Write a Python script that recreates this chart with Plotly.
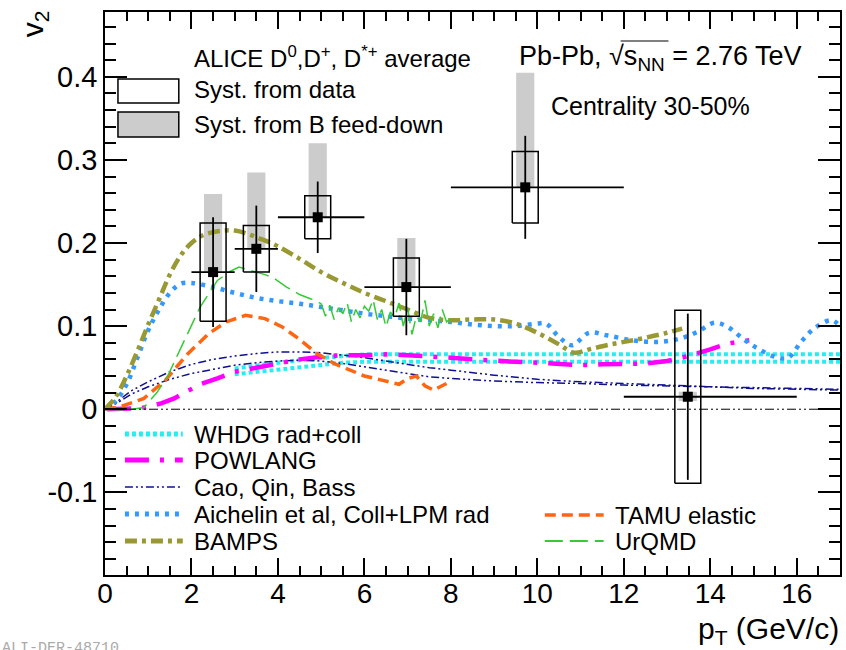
import plotly.graph_objects as go

# ---------------- data ----------------
pt = [2.5, 3.5, 4.92, 6.97, 9.72, 13.48]
bin_lo = [2, 3, 4, 6, 8, 12]
bin_hi = [3, 4, 6, 8, 12, 16]
v2 = [0.165, 0.193, 0.231, 0.147, 0.267, 0.015]
stat = [0.066, 0.052, 0.043, 0.058, 0.062, 0.100]
syst_data = [0.059, 0.028, 0.026, 0.035, 0.043, 0.104]
syst_b_up = [0.094, 0.092, 0.089, 0.059, 0.138, 0.006]
syst_b_dn = [0.0, 0.0, 0.0, 0.0, 0.0, 0.005]

whdg_x = [3.0, 3.5, 4.0, 4.5, 5.0, 5.5, 6.0, 7.0, 8.0, 9.0, 10.0, 11.0, 12.0, 13.0, 14.0, 15.0, 16.0, 17.0]
whdg_hi = [0.049, 0.053, 0.056, 0.059, 0.062, 0.064, 0.066, 0.066, 0.066, 0.066, 0.066, 0.066, 0.066, 0.066, 0.066, 0.066, 0.066, 0.066]
whdg_lo = [0.042, 0.045, 0.048, 0.051, 0.054, 0.056, 0.057, 0.057, 0.057, 0.057, 0.057, 0.057, 0.057, 0.057, 0.057, 0.057, 0.057, 0.057]

powlang_x = [0.05, 0.4, 0.8, 1.0, 1.3, 1.6, 2.0, 2.2, 2.6, 3.0, 3.5, 4.0, 4.5, 5.0, 5.5, 6.0, 6.5, 7.0, 7.5, 8.0,
             8.5, 9.0, 9.5, 10.0, 10.5, 11.0, 11.5, 12.0, 12.5, 13.0, 13.5, 14.0, 14.4, 14.9]
powlang_y = [0.0, 0.0, 0.001, 0.003, 0.007, 0.013, 0.024, 0.030, 0.037, 0.045, 0.050, 0.055, 0.060, 0.063, 0.065,
             0.065, 0.066, 0.065, 0.064, 0.062, 0.060, 0.058, 0.057, 0.056, 0.054, 0.053, 0.054, 0.055, 0.055,
             0.058, 0.064, 0.072, 0.079, 0.083]

cao_x = [0, 0.3, 0.6, 1.0, 1.5, 2.0, 2.5, 3.0, 3.5, 4.0, 4.5, 5.0, 5.5, 6.0, 6.5, 7.0, 7.5, 8.0, 9.0, 10, 11, 12, 13, 14, 15, 16, 17]
cao_hi = [0, 0.010, 0.022, 0.033, 0.045, 0.054, 0.060, 0.064, 0.067, 0.069, 0.069, 0.068, 0.065, 0.062, 0.058,
          0.054, 0.050, 0.047, 0.041, 0.036, 0.033, 0.031, 0.029, 0.027, 0.026, 0.025, 0.024]
cao_lo = [0, 0.008, 0.018, 0.027, 0.036, 0.043, 0.048, 0.053, 0.056, 0.058, 0.059, 0.058, 0.055, 0.051, 0.047,
          0.043, 0.039, 0.037, 0.034, 0.032, 0.031, 0.029, 0.028, 0.027, 0.025, 0.024, 0.023]

aich_x = [0, 0.25, 0.5, 0.75, 1.0, 1.25, 1.5, 1.75, 2.0, 2.5, 3.0, 3.5, 4.0, 4.5, 5.0, 5.5, 6.0, 6.5, 7.0, 7.5,
          8.0, 8.5, 9.0, 9.5, 10.0, 10.2, 10.5, 10.8, 11.2, 11.6, 12.2, 12.8, 13.3, 13.7, 14.1, 14.4, 14.8, 15.1,
          15.5, 15.8, 16.1, 16.4, 16.8, 17.0]
aich_y = [0, 0.010, 0.030, 0.062, 0.095, 0.120, 0.140, 0.151, 0.152, 0.147, 0.140, 0.134, 0.130, 0.127, 0.123,
          0.119, 0.115, 0.112, 0.109, 0.107, 0.105, 0.102, 0.100, 0.100, 0.103, 0.103, 0.087, 0.077, 0.092, 0.089,
          0.083, 0.081, 0.085, 0.093, 0.104, 0.099, 0.083, 0.073, 0.063, 0.062, 0.081, 0.097, 0.107, 0.100]

bamps_x = [0, 0.25, 0.5, 0.75, 1.0, 1.25, 1.5, 1.75, 2.0, 2.25, 2.5, 2.75, 3.0, 3.25, 3.5, 3.75, 4.0, 4.5, 5.0,
           5.5, 6.0, 6.5, 7.0, 7.5, 8.0, 8.5, 9.0, 9.5, 10.0, 10.5, 10.85, 11.2, 11.6, 12.0, 12.5, 13.0, 13.35]
bamps_y = [0, 0.015, 0.040, 0.070, 0.102, 0.132, 0.162, 0.185, 0.200, 0.209, 0.213, 0.215, 0.215, 0.212, 0.207,
           0.202, 0.196, 0.181, 0.165, 0.152, 0.140, 0.130, 0.120, 0.110, 0.107, 0.108, 0.108, 0.103, 0.092, 0.078,
           0.068, 0.072, 0.077, 0.081, 0.086, 0.092, 0.097]

tamu_x = [0, 0.35, 0.9, 1.4, 1.9, 2.4, 2.8, 3.25, 3.7, 4.1, 4.5, 4.9, 5.3, 5.65, 6.0, 6.4, 6.8, 7.0, 7.2, 7.4, 7.6, 7.9]
tamu_y = [0, 0.003, 0.013, 0.035, 0.066, 0.091, 0.105, 0.113, 0.109, 0.099, 0.084, 0.067, 0.055, 0.047, 0.040,
          0.035, 0.030, 0.037, 0.040, 0.028, 0.023, 0.031]

urqmd_x = [0, 0.5, 0.9, 1.2, 1.45, 1.8, 2.2, 2.6, 2.9, 3.1, 3.3, 3.5, 3.7, 3.9, 4.2, 4.5, 4.75, 5.0, 5.1, 5.2, 5.3,
           5.4, 5.5, 5.6, 5.7, 5.8, 5.9, 6.0, 6.1, 6.2, 6.3, 6.4, 6.5, 6.6, 6.7, 6.8, 6.9, 7.0, 7.1, 7.2, 7.3, 7.4,
           7.5, 7.6, 7.7, 7.8, 7.9, 8.0]
urqmd_y = [0, -0.001, 0.002, 0.020, 0.040, 0.079, 0.123, 0.155, 0.166, 0.171, 0.168, 0.165, 0.162, 0.158, 0.147,
           0.138, 0.133, 0.127, 0.112, 0.125, 0.108, 0.122, 0.115, 0.128, 0.105, 0.120, 0.110, 0.124, 0.118, 0.132,
           0.108, 0.120, 0.099, 0.117, 0.110, 0.128, 0.100, 0.122, 0.090, 0.112, 0.105, 0.131, 0.100, 0.115, 0.098,
           0.120, 0.105, 0.110]

x_ticks = [0, 2, 4, 6, 8, 10, 12, 14, 16]
y_ticks = [-0.1, 0, 0.1, 0.2, 0.3, 0.4]
y_ticktext = ["-0.1", "0", "0.1", "0.2", "0.3", "0.4"]

legend_top = ["ALICE D<sup>0</sup>,D<sup>+</sup>, D<sup>*+</sup> average", "Syst. from data", "Syst. from B feed-down"]
legend_models_left = ["WHDG rad+coll", "POWLANG", "Cao, Qin, Bass", "Aichelin et al, Coll+LPM rad", "BAMPS"]
legend_models_right = ["TAMU elastic", "UrQMD"]

# ---------------- styles ----------------
FONT = "Liberation Sans, Arial, sans-serif"
C_WHDG, C_POW, C_CAO, C_AICH, C_BAMPS, C_TAMU, C_URQMD = (
    "#22f0f0", "#ff00ff", "#101090", "#3399ff", "#999933", "#ff6611", "#33cc33")
D_WHDG = "4px,3px"
D_POW = "24px,11px,4px,11px"
D_CAO = "8px,3px,2px,3px,2px,3px"
D_AICH = "4px,6px"
D_BAMPS = "12px,5px,4px,5px"
D_TAMU = "11px,6px"
D_URQMD = "18px,7px"

W_BOX = 0.3
W_GREY = 0.21

fig = go.Figure()


def box_path(xc, ylo, yhi, hw):
    xs, ys = [], []
    for x, a, b in zip(xc, ylo, yhi):
        xs += [x - hw, x + hw, x + hw, x - hw, x - hw, None]
        ys += [a, a, b, b, a, None]
    return xs, ys


# grey feed-down boxes
gx, gy = box_path(pt, [v - d for v, d in zip(v2, syst_b_dn)], [v + u for v, u in zip(v2, syst_b_up)], W_GREY)
fig.add_trace(go.Scatter(x=gx, y=gy, mode="lines", fill="toself", fillcolor="#cccccc",
                         line=dict(width=0, color="#cccccc"), hoverinfo="skip"))

# model curves
fig.add_trace(go.Scatter(x=whdg_x, y=whdg_hi, mode="lines", line=dict(color=C_WHDG, width=4, dash=D_WHDG)))
fig.add_trace(go.Scatter(x=whdg_x, y=whdg_lo, mode="lines", line=dict(color=C_WHDG, width=4, dash=D_WHDG)))
fig.add_trace(go.Scatter(x=cao_x, y=cao_hi, mode="lines", line=dict(color=C_CAO, width=1.5, dash=D_CAO)))
fig.add_trace(go.Scatter(x=cao_x, y=cao_lo, mode="lines", line=dict(color=C_CAO, width=1.5, dash=D_CAO)))
fig.add_trace(go.Scatter(x=powlang_x, y=powlang_y, mode="lines", line=dict(color=C_POW, width=4.5, dash=D_POW)))
fig.add_trace(go.Scatter(x=tamu_x, y=tamu_y, mode="lines", line=dict(color=C_TAMU, width=3.5, dash=D_TAMU)))
fig.add_trace(go.Scatter(x=aich_x, y=aich_y, mode="lines", line=dict(color=C_AICH, width=4.5, dash=D_AICH, shape="spline")))
fig.add_trace(go.Scatter(x=bamps_x, y=bamps_y, mode="lines", line=dict(color=C_BAMPS, width=4.5, dash=D_BAMPS, shape="spline")))
fig.add_trace(go.Scatter(x=urqmd_x, y=urqmd_y, mode="lines", line=dict(color=C_URQMD, width=1.5, dash=D_URQMD)))

# open syst boxes
bx, by = box_path(pt, [v - s for v, s in zip(v2, syst_data)], [v + s for v, s in zip(v2, syst_data)], W_BOX)
fig.add_trace(go.Scatter(x=bx, y=by, mode="lines", line=dict(color="black", width=1.5), hoverinfo="skip"))

# data points
fig.add_trace(go.Scatter(
    x=pt, y=v2, mode="markers",
    marker=dict(symbol="square", size=10, color="black"),
    error_x=dict(type="data", symmetric=False,
                 array=[h - p for h, p in zip(bin_hi, pt)],
                 arrayminus=[p - l for p, l in zip(pt, bin_lo)],
                 color="black", thickness=1.8, width=0),
    error_y=dict(type="data", array=stat, color="black", thickness=1.8, width=0),
))

# zero line
fig.add_hline(y=0, line=dict(color="black", width=1, dash="9px,3px,2px,3px,2px,3px"))

# ---------------- layout ----------------
L, R, T, B = 105, 842, 12, 575
W, H = 846, 650


def px(x):
    return (x - L) / (R - L)


def py(y):
    return (B - y) / (B - T)


axis_common = dict(showline=True, linecolor="black", linewidth=1.5, mirror="allticks", ticks="inside",
                   tickcolor="black", tickwidth=1.5, showgrid=False, zeroline=False)

fig.update_layout(
    width=W, height=H, margin=dict(l=L, r=W - R, t=T, b=H - B),
    paper_bgcolor="white", plot_bgcolor="white", showlegend=False,
    xaxis=dict(range=[0, 17], tickvals=x_ticks, ticklen=17, ticklabelstandoff=-7,
               tickfont=dict(family=FONT, size=28, color="black"),
               minor=dict(dtick=0.5, ticklen=9, ticks="inside", tickcolor="black", tickwidth=1.5, showgrid=False),
               **axis_common),
    yaxis=dict(range=[-0.1995, 0.478], tickvals=y_ticks, ticktext=y_ticktext, ticklen=22,
               tickfont=dict(family=FONT, size=29, color="black"),
               minor=dict(dtick=0.02, tick0=0, ticklen=11, ticks="inside", tickcolor="black", tickwidth=1.5,
                          showgrid=False),
               **axis_common),
)

shapes = []
annotations = []

# top legend
shapes.append(dict(type="rect", xref="paper", yref="paper", x0=px(145), x1=px(155), y0=py(61), y1=py(51),
                   fillcolor="black", line=dict(width=0)))
shapes.append(dict(type="rect", xref="paper", yref="paper", x0=px(118), x1=px(179), y0=py(103), y1=py(79),
                   fillcolor="white", line=dict(color="black", width=1.5)))
shapes.append(dict(type="rect", xref="paper", yref="paper", x0=px(118), x1=px(179), y0=py(137), y1=py(112),
                   fillcolor="#cccccc", line=dict(color="black", width=1.5)))
for txt, yy in zip(legend_top, [57, 89, 124]):
    annotations.append(dict(text=txt, xref="paper", yref="paper", x=px(192), y=py(yy), xanchor="left",
                            yanchor="middle", showarrow=False, font=dict(family=FONT, size=24, color="black")))

# model legend
left_styles = [(C_WHDG, 5, D_WHDG), (C_POW, 5, D_POW), (C_CAO, 1.5, D_CAO), (C_AICH, 5, D_AICH), (C_BAMPS, 5, D_BAMPS)]
for txt, yy, (c, w, d) in zip(legend_models_left, [434, 460, 487, 514, 541], left_styles):
    shapes.append(dict(type="line", xref="paper", yref="paper", x0=px(125), x1=px(183), y0=py(yy), y1=py(yy),
                       line=dict(color=c, width=w, dash=d)))
    annotations.append(dict(text=txt, xref="paper", yref="paper", x=px(192), y=py(yy), xanchor="left",
                            yanchor="middle", showarrow=False, font=dict(family=FONT, size=24, color="black")))
right_styles = [(C_TAMU, 3.5, D_TAMU), (C_URQMD, 2, D_URQMD)]
for txt, yy, (c, w, d) in zip(legend_models_right, [515, 541], right_styles):
    shapes.append(dict(type="line", xref="paper", yref="paper", x0=px(546), x1=px(605), y0=py(yy), y1=py(yy),
                       line=dict(color=c, width=w, dash=d)))
    annotations.append(dict(text=txt, xref="paper", yref="paper", x=px(614), y=py(yy), xanchor="left",
                            yanchor="middle", showarrow=False, font=dict(family=FONT, size=24, color="black")))

# header texts
annotations.append(dict(text="Pb-Pb, √s<sub>NN</sub> = 2.76 TeV", xref="paper", yref="paper", x=px(518),
                        y=py(58), xanchor="left", yanchor="middle", showarrow=False,
                        font=dict(family=FONT, size=27, color="black")))
shapes.append(dict(type="line", xref="paper", yref="paper", x0=px(622), x1=px(670), y0=py(41), y1=py(41),
                   line=dict(color="black", width=1.2)))
annotations.append(dict(text="Centrality 30-50%", xref="paper", yref="paper", x=px(550), y=py(106),
                        xanchor="left", yanchor="middle", showarrow=False,
                        font=dict(family=FONT, size=25, color="black")))

# axis titles
annotations.append(dict(text="v<sub>2</sub>", xref="paper", yref="paper", x=px(34), y=py(24), textangle=-90,
                        xanchor="center", yanchor="middle", showarrow=False,
                        font=dict(family=FONT, size=30, color="black")))
annotations.append(dict(text="p<sub>T</sub> (GeV/c)", xref="paper", yref="paper", x=px(843), y=py(630),
                        xanchor="right", yanchor="middle", showarrow=False,
                        font=dict(family=FONT, size=30, color="black")))
annotations.append(dict(text="ALI-DER-48710", xref="paper", yref="paper", x=px(0), y=py(638),
                        xanchor="left", yanchor="top", showarrow=False,
                        font=dict(family="Liberation Mono, monospace", size=15, color="#aaaaaa")))

fig.update_layout(shapes=shapes, annotations=annotations)
fig.write_html("out.html")
